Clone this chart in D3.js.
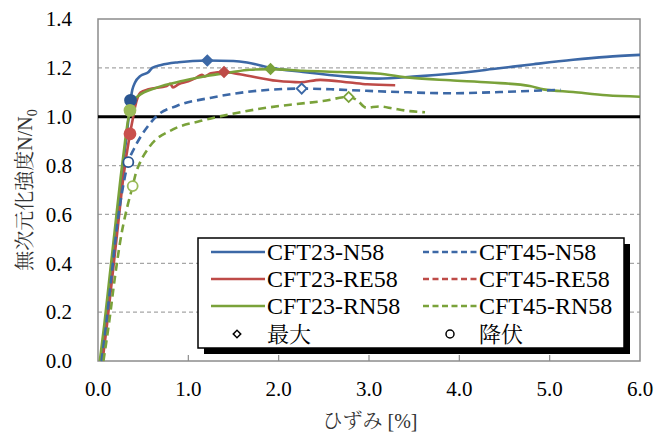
<!DOCTYPE html>
<html>
<head>
<meta charset="utf-8">
<script src="https://cdn.jsdelivr.net/npm/d3@7"></script>
</head>
<body style="margin:0;background:#fff">
<svg id="chart" width="667" height="432"></svg>
<script>
"use strict";

// strain [%] vs normalised strength N/N0
var cft23N58 = [[0.03,0],[0.08,0.15],[0.14,0.35],[0.20,0.55],[0.26,0.75],[0.31,0.90],[0.34,1.00],[0.36,1.067],[0.38,1.11],[0.41,1.14],[0.47,1.167],[0.56,1.183],[0.60,1.20],[0.70,1.212],[0.89,1.223],[1.21,1.230],[1.50,1.228],[1.65,1.222],[1.90,1.201],[2.27,1.183],[2.79,1.163],[3.09,1.156],[3.53,1.165],[3.93,1.177],[4.37,1.195],[4.82,1.215],[5.26,1.233],[5.63,1.245],[6.0,1.253]];
var cft23RE58 = [[0.05,0],[0.10,0.15],[0.16,0.35],[0.22,0.55],[0.28,0.75],[0.354,0.93],[0.39,1.0],[0.41,1.04],[0.44,1.08],[0.47,1.099],[0.56,1.112],[0.76,1.126],[0.80,1.135],[0.83,1.12],[0.89,1.133],[1.0,1.145],[1.09,1.16],[1.15,1.172],[1.18,1.165],[1.25,1.178],[1.395,1.183],[1.57,1.174],[1.98,1.147],[2.24,1.141],[2.46,1.151],[2.79,1.140],[2.98,1.133],[3.29,1.129]];
var cft23RN58 = [[0.02,0],[0.07,0.15],[0.13,0.35],[0.19,0.55],[0.25,0.75],[0.30,0.90],[0.33,0.98],[0.354,1.026],[0.38,1.06],[0.446,1.085],[0.65,1.119],[0.944,1.147],[1.20,1.167],[1.46,1.181],[1.68,1.192],[1.91,1.195],[2.27,1.188],[2.68,1.183],[3.09,1.177],[3.45,1.160],[3.90,1.149],[4.34,1.140],[4.78,1.126],[4.93,1.112],[5.26,1.101],[5.63,1.088],[6.0,1.082]];
var cft45N58 = [[0.04,0],[0.09,0.15],[0.15,0.35],[0.21,0.55],[0.28,0.72],[0.336,0.814],[0.40,0.87],[0.465,0.914],[0.55,0.96],[0.65,1.003],[0.87,1.044],[1.24,1.077],[1.76,1.106],[2.255,1.115],[2.60,1.112],[2.97,1.106],[3.34,1.101],[3.90,1.096],[4.45,1.101],[4.82,1.106],[5.12,1.110]];
var cft45RE58 = [];
var cft45RN58 = [[0.06,0],[0.12,0.15],[0.19,0.35],[0.26,0.52],[0.33,0.64],[0.384,0.716],[0.42,0.77],[0.465,0.812],[0.576,0.88],[0.83,0.948],[1.13,0.982],[1.46,1.010],[1.87,1.037],[2.20,1.052],[2.49,1.064],[2.775,1.081],[2.86,1.07],[2.97,1.037],[3.12,1.042],[3.27,1.033],[3.45,1.023],[3.62,1.018]];

// [strain, N/N0] of max and yield points
var maxPoints   = { "CFT23-N58": [1.21,1.230], "CFT23-RE58": [1.395,1.183], "CFT23-RN58": [1.91,1.195], "CFT45-N58": [2.255,1.115], "CFT45-RN58": [2.775,1.081] };
var yieldPoints = { "CFT23-N58": [0.36,1.067], "CFT23-RE58": [0.354,0.93], "CFT23-RN58": [0.354,1.026], "CFT45-N58": [0.336,0.814], "CFT45-RN58": [0.384,0.716] };

var xTicks = [0, 1, 2, 3, 4, 5, 6];
var yTicks = [0, 0.2, 0.4, 0.6, 0.8, 1.0, 1.2, 1.4];

var series = [
  { name: "CFT23-N58",  data: cft23N58,  color: "#3c68a6", yieldColor: "#2a5590", dashed: false },
  { name: "CFT23-RE58", data: cft23RE58, color: "#be4b48", yieldColor: "#c9504d", dashed: false },
  { name: "CFT23-RN58", data: cft23RN58, color: "#7aa23a", yieldColor: "#9bbb59", dashed: false },
  { name: "CFT45-N58",  data: cft45N58,  color: "#3c68a6", yieldColor: "#2a5590", dashed: true },
  { name: "CFT45-RE58", data: cft45RE58, color: "#be4b48", yieldColor: "#c9504d", dashed: true },
  { name: "CFT45-RN58", data: cft45RN58, color: "#7aa23a", yieldColor: "#9bbb59", dashed: true }
];

var FONT = "'Liberation Serif', 'DejaVu Serif', 'Noto Serif CJK JP', 'Noto Sans CJK JP', serif";

var svg = d3.select("#chart").attr("font-family", FONT);
var pLeft = 98, pRight = 640, pTop = 19, pBottom = 361;

var x = d3.scaleLinear().domain([0, 6]).range([pLeft, pRight]);
var y = d3.scaleLinear().domain([0, 1.4]).range([pBottom, pTop]);

// grid
svg.selectAll(".grid")
    .data(yTicks.filter(function(d){ return d > 0 && d < 1.4 && d != 1.0 }))
    .enter()
    .append("line")
    .attr("x1", pLeft).attr("x2", pRight)
    .attr("y1", function(d){ return y(d) }).attr("y2", function(d){ return y(d) })
    .style("stroke", "#a6a6a6")
    .style("stroke-width", 1.2)
    .style("stroke-dasharray", "4,3");

// frame
svg.append("rect")
    .attr("x", pLeft).attr("y", pTop)
    .attr("width", pRight - pLeft).attr("height", pBottom - pTop)
    .style("fill", "none")
    .style("stroke", "#8c8c8c")
    .style("stroke-width", 1.5);

// x ticks (inside)
svg.selectAll(".xtick")
    .data(xTicks.slice(1, -1))
    .enter()
    .append("line")
    .attr("x1", function(d){ return x(d) }).attr("x2", function(d){ return x(d) })
    .attr("y1", pBottom).attr("y2", pBottom - 6)
    .style("stroke", "#8c8c8c")
    .style("stroke-width", 1.2);

// N/N0 = 1.0 reference line
svg.append("line")
    .attr("x1", pLeft).attr("x2", pRight)
    .attr("y1", y(1.0)).attr("y2", y(1.0))
    .style("stroke", "black")
    .style("stroke-width", 3);

// tick labels
svg.selectAll(".ylab")
    .data(yTicks)
    .enter()
    .append("text")
    .attr("x", 72)
    .attr("y", function(d){ return y(d) })
    .attr("dy", "0.35em")
    .attr("text-anchor", "end")
    .style("font-size", "21px")
    .text(function(d){ return d.toFixed(1) });

svg.selectAll(".xlab")
    .data(xTicks)
    .enter()
    .append("text")
    .attr("x", function(d){ return x(d) })
    .attr("y", 396)
    .attr("text-anchor", "middle")
    .style("font-size", "21px")
    .text(function(d){ return d.toFixed(1) });

// axis titles
svg.append("text")
    .attr("x", 370).attr("y", 428)
    .attr("text-anchor", "middle")
    .style("font-size", "20px")
    .style("fill", "#333")
    .text("ひずみ [%]");

var yt = svg.append("text")
    .attr("transform", "translate(32,190) rotate(-90)")
    .attr("text-anchor", "middle")
    .style("font-size", "20px")
    .style("fill", "#333");
yt.append("tspan").text("無次元化強度N/N");
yt.append("tspan").attr("dy", 5).style("font-size", "14px").text("0");

// curves
var line = d3.line()
    .x(function(d){ return x(d[0]) })
    .y(function(d){ return y(d[1]) })
    .curve(d3.curveMonotoneX);

var plot = svg.append("g");

plot.selectAll(".curve")
    .data(series.filter(function(s){ return s.data.length > 0 }))
    .enter()
    .append("path")
    .attr("d", function(s){ return line(s.data) })
    .style("fill", "none")
    .style("stroke", function(s){ return s.color })
    .style("stroke-width", 2.6)
    .style("stroke-dasharray", function(s){ return s.dashed ? "8,5" : null });

// square turned 45 degrees = Excel diamond marker
var diamond = d3.symbol().type(d3.symbolSquare).size(50);

series.forEach(function(s) {
  var m = maxPoints[s.name];
  if (m) {
    plot.append("path")
        .attr("d", diamond())
        .attr("transform", "translate(" + x(m[0]) + "," + y(m[1]) + ") rotate(45)")
        .style("fill", s.dashed ? "white" : s.color)
        .style("stroke", s.color)
        .style("stroke-width", 1.8);
  }
  var p = yieldPoints[s.name];
  if (p) {
    plot.append("circle")
        .attr("cx", x(p[0])).attr("cy", y(p[1]))
        .attr("r", s.dashed ? 5 : 5.5)
        .style("fill", s.dashed ? "white" : s.yieldColor)
        .style("stroke", s.yieldColor)
        .style("stroke-width", 1.8);
  }
});

// legend
var lg = svg.append("g");
var lx = 198, ly = 238, lw = 426, lh = 110;

lg.append("rect")
    .attr("x", lx + 6).attr("y", ly + 6)
    .attr("width", lw).attr("height", lh)
    .style("fill", "black");
lg.append("rect")
    .attr("x", lx).attr("y", ly)
    .attr("width", lw).attr("height", lh)
    .style("fill", "white")
    .style("stroke", "black")
    .style("stroke-width", 1.5);

var rowY = [252, 279, 306, 334];

series.forEach(function(s, i) {
  var col = i < 3 ? 0 : 1;
  var row = i % 3;
  var x0 = col == 0 ? 211 : 423;
  lg.append("line")
      .attr("x1", x0).attr("x2", x0 + 54)
      .attr("y1", rowY[row]).attr("y2", rowY[row])
      .style("stroke", s.color)
      .style("stroke-width", 2.6)
      .style("stroke-dasharray", s.dashed ? "6,3.5" : null);
  lg.append("text")
      .attr("x", x0 + 56)
      .attr("y", rowY[row])
      .attr("dy", "0.35em")
      .style("font-size", "24px")
      .text(s.name);
});

lg.append("path")
    .attr("d", d3.symbol().type(d3.symbolSquare).size(28)())
    .attr("transform", "translate(237," + rowY[3] + ") rotate(45)")
    .style("fill", "white")
    .style("stroke", "black")
    .style("stroke-width", 1.5);
lg.append("text")
    .attr("x", 267).attr("y", rowY[3]).attr("dy", "0.35em")
    .style("font-size", "22px")
    .text("最大");

lg.append("circle")
    .attr("cx", 450).attr("cy", rowY[3]).attr("r", 4)
    .style("fill", "white")
    .style("stroke", "black")
    .style("stroke-width", 1.5);
lg.append("text")
    .attr("x", 479).attr("y", rowY[3]).attr("dy", "0.35em")
    .style("font-size", "22px")
    .text("降伏");
</script>
</body>
</html>
